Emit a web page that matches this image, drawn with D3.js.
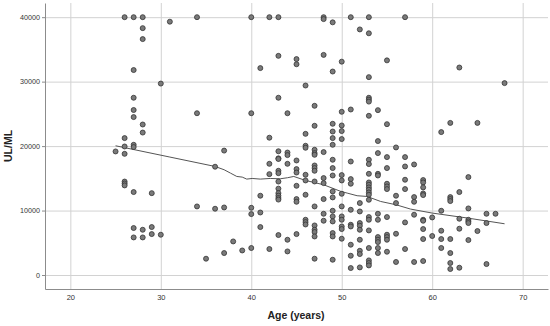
<!DOCTYPE html>
<html>
<head>
<meta charset="utf-8">
<script src="https://cdn.jsdelivr.net/npm/d3@7"></script>
<style>
  body { margin: 0; background: #fff; }
  text { font-family: "Liberation Sans", Arial, sans-serif; }
</style>
</head>
<body>
<div id="chart"></div>
<script>
// ages (years) and the UL/ML readings at each age
const ageGroups = [25, 26, 27, 28, 29, 30, 31, 34, 35, 36, 37, 38, 39, 40, 41, 42, 43, 44, 45, 46,
                   47, 48, 49, 50, 51, 52, 53, 54, 55, 56, 57, 58, 59, 60, 61, 62, 63, 64, 65, 66, 67, 68];
const ulmlByAge = [
  [19170],
  [40000, 21240, 19940, 18800, 14500, 14200, 13900],
  [40000, 31800, 27500, 25600, 24500, 20200, 19850, 12870, 7290, 5830],
  [40000, 38300, 36600, 23350, 22100, 7020, 5830],
  [12700, 7440, 6350],
  [29700, 6250],
  [39300],
  [40000, 25100, 10640],
  [2530],
  [16800, 10280],
  [19300, 10480, 3410],
  [5210],
  [3810],
  [40000, 25100, 10430, 9450, 4190],
  [32100, 12300, 9700, 7440],
  [40000, 21300, 17250, 15650, 4030],
  [40000, 34000, 27500, 19200, 18100, 18000, 16170, 15800, 14500, 13400, 12700, 12300, 11950, 11700, 6200],
  [25100, 19000, 18600, 17250, 5470, 3660],
  [33500, 32700, 17770, 16430, 15900, 13840, 11780, 11360, 6350],
  [29400, 21900, 20050, 19740, 15550, 14670, 12450, 8570, 8210, 7840],
  [26250, 23150, 19430, 18910, 18650, 16990, 16590, 16170, 14510, 10640, 7690, 7020, 6670, 5980, 2530],
  [40000, 39700, 34150, 19070, 15040, 14260, 11780, 9500, 8420],
  [39200, 31570, 23460, 22260, 21240, 20200, 17880, 16590, 15440, 12970, 12040, 9970, 9090, 8310, 6510, 5980, 2370],
  [33100, 25320, 23200, 22330, 21090, 15500, 14670, 12600, 10640, 9090, 8570, 7530, 7130, 5630],
  [40000, 25680, 17610, 14880, 14160, 10120, 7800, 7530, 4700, 2990, 1080],
  [38100, 11160, 9860, 8060, 7640, 7020, 5470, 3760, 3250, 1180],
  [40000, 37500, 30700, 27500, 27200, 26900, 24700, 17880, 17210, 15700, 14360, 14000, 13590, 13230,
   12810, 12450, 11670, 8990, 8570, 6920, 4190, 2270, 1860, 1490],
  [25580, 20780, 18910, 15700, 15440, 9500, 8570, 5890, 5470, 5110, 4190, 3410],
  [33300, 23400, 18290, 16590, 14160, 13740, 13330, 8990, 6250, 5890, 5470, 3610],
  [19790, 12300, 11160, 6400, 2020],
  [40000, 18290, 16840, 14780, 13330, 8160, 4030],
  [17150, 12090, 11360, 9350, 2020],
  [14730, 14360, 13590, 12650, 12400, 8570, 8420, 7130, 5580, 2170],
  [8930, 6050],
  [22170, 9970, 6870, 5580, 4190],
  [23600, 12090, 11780, 11470, 5580, 3410, 1860, 930],
  [32190, 12870, 8730, 7180, 1130],
  [15190, 10330, 8570, 8310, 8060, 5420],
  [23600, 6820],
  [9500, 8060, 1700],
  [9500],
  [29770]
];

// fit line (smoothed)
const fitAge  = [25, 31, 36, 37, 37.7, 38.4, 39, 39.5, 40.1, 41, 42.1, 43.2, 44, 44.7, 46, 48, 49.9, 50.6, 51.7, 52.8, 54.3, 56, 57.6, 60, 63.9, 68];
const fitUlml = [20050, 18300, 16840, 16330, 15810, 15290, 15190, 14880, 14980, 14880, 14980, 14930, 15090, 15290, 14670, 14000, 12970, 12710, 12300, 12190, 11410, 10900, 10230, 9610, 8840, 7950];

const xTicks = [20, 30, 40, 50, 60, 70];
const yTicks = [0, 10000, 20000, 30000, 40000];

const points = [];
ageGroups.forEach((a, i) => ulmlByAge[i].forEach(v => points.push({ age: a, ulml: v })));

const W = 550, H = 326;
const plot = { left: 45, right: 548, top: 3, bottom: 289 };

const svg = d3.select("#chart")
  .append("svg")
    .attr("width", W)
    .attr("height", H);

const x = d3.scaleLinear().domain([17.2, 72.8]).range([plot.left, plot.right]);
const y = d3.scaleLinear().domain([-2170, 42200]).range([plot.bottom, plot.top]);

// grid lines
svg.append("g")
    .attr("transform", `translate(0,${plot.bottom})`)
    .call(d3.axisBottom(x).tickValues(xTicks).tickSize(-(plot.bottom - plot.top)).tickFormat(""))
    .call(g => g.select(".domain").remove())
    .call(g => g.selectAll("line").attr("stroke", "#d2d2d2"));
svg.append("g")
    .attr("transform", `translate(${plot.left},0)`)
    .call(d3.axisLeft(y).tickValues(yTicks).tickSize(-(plot.right - plot.left)).tickFormat(""))
    .call(g => g.select(".domain").remove())
    .call(g => g.selectAll("line").attr("stroke", "#d2d2d2"));

// x axis
svg.append("g")
    .attr("transform", `translate(0,${plot.bottom})`)
    .attr("color", "#333")
    .call(d3.axisBottom(x).tickValues(xTicks).tickSize(0).tickPadding(6).tickSizeOuter(0).tickFormat(d3.format("d")))
    .call(g => g.select(".domain").attr("stroke", "#8c8c8c"))
    .call(g => g.selectAll("text").attr("font-size", 7.5)
        .attr("font-family", "'Liberation Sans', Arial, sans-serif"));

// y axis
svg.append("g")
    .attr("transform", `translate(${plot.left},0)`)
    .attr("color", "#333")
    .call(d3.axisLeft(y).tickValues(yTicks).tickSize(3).tickPadding(2).tickSizeOuter(0).tickFormat(d3.format("d")))
    .call(g => g.select(".domain").attr("stroke", "#8c8c8c"))
    .call(g => g.selectAll("line").attr("stroke", "#8c8c8c"))
    .call(g => g.selectAll("text").attr("font-size", 7.2)
        .attr("font-family", "'Liberation Sans', Arial, sans-serif"));

// axis titles
svg.append("text")
    .attr("text-anchor", "middle")
    .attr("x", 296)
    .attr("y", 319)
    .attr("font-size", 10.5)
    .attr("font-weight", "bold")
    .attr("fill", "#222")
    .text("Age (years)");

svg.append("text")
    .attr("text-anchor", "middle")
    .attr("transform", "rotate(-90)")
    .attr("x", -146)
    .attr("y", 12)
    .attr("font-size", 10.5)
    .attr("font-weight", "bold")
    .attr("fill", "#222")
    .text("UL/ML");

// fit line
const line = d3.line().x((d, i) => x(fitAge[i])).y(d => y(d));
svg.append("path")
    .datum(fitUlml)
    .attr("d", line)
    .attr("fill", "none")
    .attr("stroke", "#555")
    .attr("stroke-width", 1);

// dots
svg.append("g")
  .selectAll("circle")
  .data(points)
  .enter()
  .append("circle")
    .attr("cx", d => x(d.age))
    .attr("cy", d => y(d.ulml))
    .attr("r", 2.5)
    .attr("fill", "#7a7a7a")
    .attr("stroke", "#333")
    .attr("stroke-width", 0.8);
</script>
</body>
</html>
